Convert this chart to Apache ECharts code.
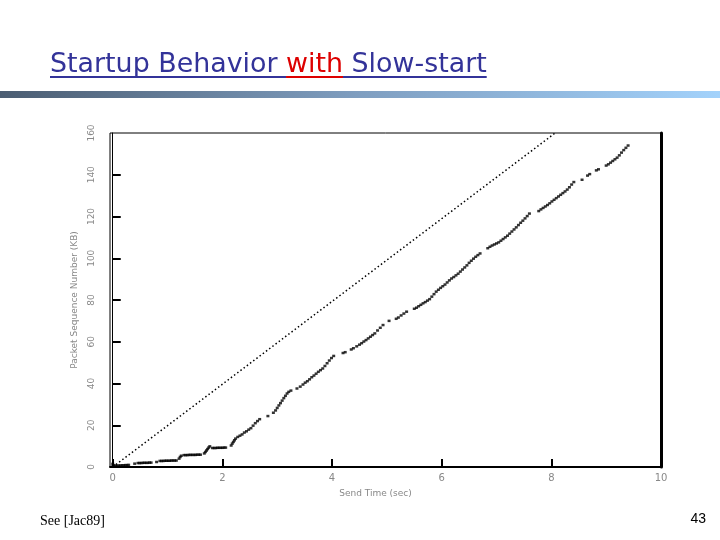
<!DOCTYPE html>
<html>
<head>
<meta charset="utf-8">
<script src="https://cdn.jsdelivr.net/npm/echarts@6.0.0/dist/echarts.min.js"></script>
<style>
html, body { margin: 0; padding: 0; background: #fff; }
#main { width: 720px; height: 540px; }
</style>
</head>
<body>
<div id="main"></div>
<script>
// send time (sec) and sequence number (KB) of each packet
const sendTime = [
    0, 0, 0.02, 0.05, 0.08, 0.11, 0.14, 0.17, 0.2, 0.23, 0.26, 0.29,
    0.4,
    0.46, 0.49, 0.52, 0.55, 0.58, 0.61, 0.64, 0.67, 0.7,
    0.8,
    0.86, 0.89, 0.92, 0.95, 0.98, 1.01, 1.04, 1.07, 1.1, 1.13, 1.16,
    1.21, 1.23, 1.25,
    1.3, 1.33, 1.36, 1.39, 1.42, 1.45, 1.48, 1.51, 1.54, 1.57, 1.6,
    1.67, 1.69, 1.71, 1.73, 1.75, 1.77,
    1.82, 1.85, 1.88, 1.91, 1.94, 1.97, 2.0, 2.03, 2.06,
    2.16, 2.18, 2.2, 2.22, 2.24,
    2.28, 2.32, 2.36, 2.4, 2.44, 2.48, 2.52, 2.56, 2.6, 2.64, 2.68,
    2.83, 2.93, 2.97, 3.0, 3.03, 3.06, 3.09, 3.12, 3.15, 3.18, 3.21, 3.25,
    3.36, 3.42, 3.47, 3.51, 3.55, 3.59, 3.63, 3.67, 3.71, 3.75, 3.79, 3.83, 3.87, 3.91, 3.95, 3.99, 4.03,
    4.2, 4.24, 4.35, 4.39, 4.45, 4.5, 4.54, 4.58, 4.62, 4.66, 4.7, 4.74, 4.78, 4.83, 4.88, 4.93,
    5.04, 5.17, 5.21, 5.26, 5.31, 5.36,
    5.5, 5.54, 5.58, 5.62, 5.66, 5.7, 5.74, 5.78, 5.82, 5.86, 5.9, 5.94, 5.98, 6.02, 6.06, 6.1,
    6.14, 6.18, 6.22, 6.26, 6.3, 6.34, 6.38, 6.42, 6.46, 6.5, 6.54, 6.58, 6.62, 6.66, 6.7,
    6.84, 6.88, 6.92, 6.96, 7.0, 7.04, 7.08, 7.12, 7.16, 7.2, 7.24, 7.28, 7.32, 7.36, 7.4, 7.44, 7.48, 7.52, 7.56, 7.6,
    7.77, 7.81, 7.85, 7.89, 7.93, 7.97, 8.01, 8.05, 8.09, 8.13, 8.17, 8.21, 8.25, 8.29, 8.33, 8.37, 8.41,
    8.56, 8.66, 8.7,
    8.82, 8.86,
    9.0, 9.04, 9.08, 9.12, 9.16, 9.2, 9.24, 9.28, 9.32, 9.36, 9.4
]
const seqKB = [
    1.5, 0.3, 0.8, 0.6, 0.6, 0.7, 0.7, 0.8, 0.8, 0.9, 0.9, 1.0,
    1.6,
    1.9, 1.9, 1.9, 2.0, 2.0, 2.0, 2.0, 2.1, 2.1,
    2.4,
    2.9, 2.9, 2.9, 3.0, 3.0, 3.0, 3.0, 3.1, 3.1, 3.1, 3.1,
    4.0, 4.8, 5.4,
    5.7, 5.7, 5.7, 5.8, 5.8, 5.8, 5.8, 5.8, 5.9, 5.9, 5.9,
    6.5, 7.2, 7.9, 8.6, 9.3, 9.9,
    9.1, 9.1, 9.1, 9.2, 9.2, 9.2, 9.2, 9.3, 9.3,
    10.3, 11.2, 12.0, 12.8, 13.6,
    14.4, 15.0, 15.6, 16.5, 17.1, 17.9, 18.6, 19.8, 21.0, 22.0, 22.9,
    24.4, 26.0, 27.1, 28.3, 29.5, 30.6, 31.8, 33.0, 34.1, 35.2, 36.0, 36.6,
    37.6, 38.5, 39.5, 40.4, 41.1, 42.0, 43.0, 43.8, 44.7, 45.6, 46.4, 47.2, 48.4, 49.7, 51.0, 52.2, 53.2,
    54.6, 55.0, 56.3, 56.9, 57.8, 58.6, 59.3, 60.1, 60.8, 61.6, 62.4, 63.2, 64.0, 65.4, 66.7, 68.0,
    70.0, 71.0, 71.6, 72.6, 73.5, 74.4,
    75.8, 76.3, 77.0, 77.7, 78.4, 79.0, 79.7, 80.4, 81.6, 82.8, 84.0, 84.9, 85.8, 86.6, 87.4, 88.4,
    89.4, 90.3, 91.0, 91.8, 92.6, 93.6, 94.6, 95.6, 96.6, 97.8, 98.8, 99.8, 100.7, 101.5, 102.3,
    104.8, 105.5, 106.1, 106.6, 107.1, 107.6, 108.4, 109.2, 110.0, 110.8, 111.8, 112.8, 113.8, 114.8, 115.9, 117.0, 118.0, 119.1, 120.2, 121.4,
    122.6, 123.4, 124.1, 124.8, 125.5, 126.3, 127.2, 128.0, 128.8, 129.6, 130.4, 131.2, 132.0, 132.9, 134.0, 135.3, 136.5,
    137.6, 139.6, 140.3,
    142.1, 142.6,
    144.4, 145.0, 145.8, 146.6, 147.4, 148.2, 149.3, 150.6, 151.8, 152.9, 154.0
]
// dotted reference line (ideal rate)
const idealTime = [0, 8.07]
const idealKB = [0, 160]

const xTicks = [0, 2, 4, 6, 8, 10]
const yTicks = [20, 40, 60, 80, 100, 120, 140]

const titleParts = ['Startup Behavior ', 'with', ' Slow-start']
const titleColors = ['#333399', '#dd0000', '#333399']

// measure title pieces so underline can follow the text
const titleFamily = "'DejaVu Sans', sans-serif"
const ctx = document.createElement('canvas').getContext('2d')
ctx.font = '24px ' + titleFamily
const rawW = ctx.measureText(titleParts.join('')).width
const titleSize = 24 * 437 / rawW
ctx.font = titleSize + 'px ' + titleFamily
let tx = 50
const titleGraphics = []
titleParts.forEach(function (part, i) {
    const w = ctx.measureText(part).width
    titleGraphics.push({
        type: 'text',
        left: tx,
        top: 52,
        style: {
            text: part,
            fill: titleColors[i],
            font: titleSize + 'px ' + titleFamily
        }
    })
    titleGraphics.push({
        type: 'rect',
        shape: {x: tx, y: 76, width: w, height: 2},
        style: {fill: titleColors[i]}
    })
    tx += w
})

const chart = echarts.init(document.getElementById('main'))
const option = {
    backgroundColor: '#fff',
    animation: false,
    graphic: titleGraphics.concat([
        {
            type: 'rect',
            shape: {x: 0, y: 91, width: 720, height: 7},
            style: {
                fill: new echarts.graphic.LinearGradient(0, 0, 1, 0, [
                    {offset: 0, color: '#4b5d72'},
                    {offset: 0.5, color: '#7f9ec0'},
                    {offset: 1, color: '#a3d2fb'}
                ])
            }
        },
        {
            type: 'text',
            left: 40,
            top: 514,
            style: {text: 'See [Jac89]', fill: '#000', font: "14px 'Liberation Serif'"}
        },
        {
            type: 'text',
            right: 14,
            top: 512,
            style: {text: '43', fill: '#000', font: "14px 'Liberation Sans'"}
        }
    ]),
    grid: {
        left: 110,
        right: 59,
        top: 133,
        bottom: 73,
        show: true,
        borderColor: '#000',
        borderWidth: 1
    },
    xAxis: {
        type: 'value',
        min: -0.05,
        max: 10,
        name: 'Send Time (sec)',
        nameLocation: 'middle',
        nameGap: 22,
        nameTextStyle: {color: '#888', fontSize: 9, fontFamily: 'DejaVu Sans', padding: [0, 20, 0, 0]},
        splitLine: {show: false},
        axisLine: {lineStyle: {color: '#000', width: 2}},
        axisTick: {inside: true, length: 8, lineStyle: {color: '#000', width: 2}, customValues: xTicks},
        axisLabel: {color: '#888', fontSize: 10, fontFamily: 'DejaVu Sans', margin: 6, customValues: xTicks}
    },
    yAxis: [{
        type: 'value',
        min: 0,
        max: 160,
        interval: 20,
        name: 'Packet Sequence Number (KB)',
        nameLocation: 'middle',
        nameRotate: 90,
        nameGap: 31,
        nameTextStyle: {color: '#888', fontSize: 9, fontFamily: 'DejaVu Sans'},
        splitLine: {show: false},
        axisLine: {show: true, lineStyle: {color: '#000', width: 1}},
        axisTick: {inside: true, length: 8, lineStyle: {color: '#000', width: 2}, customValues: yTicks},
        axisLabel: {color: '#888', fontSize: 9, fontFamily: 'DejaVu Sans', rotate: 90, margin: 14}
    }, {
        type: 'value',
        position: 'right',
        min: 0,
        max: 160,
        axisLine: {show: true, lineStyle: {color: '#000', width: 3}},
        axisTick: {show: false},
        axisLabel: {show: false},
        splitLine: {show: false}
    }],
    series: [{
        type: 'line',
        data: idealTime.map(function (t, i) { return [t, idealKB[i]] }),
        symbol: 'none',
        lineStyle: {color: '#000', width: 1.5, type: [1.5, 2.5]}
    }, {
        type: 'scatter',
        data: sendTime.map(function (t, i) { return [t, seqKB[i]] }),
        symbol: 'rect',
        symbolSize: [3, 2.5],
        itemStyle: {color: '#000'}
    }]
}
chart.setOption(option)
</script>
</body>
</html>
